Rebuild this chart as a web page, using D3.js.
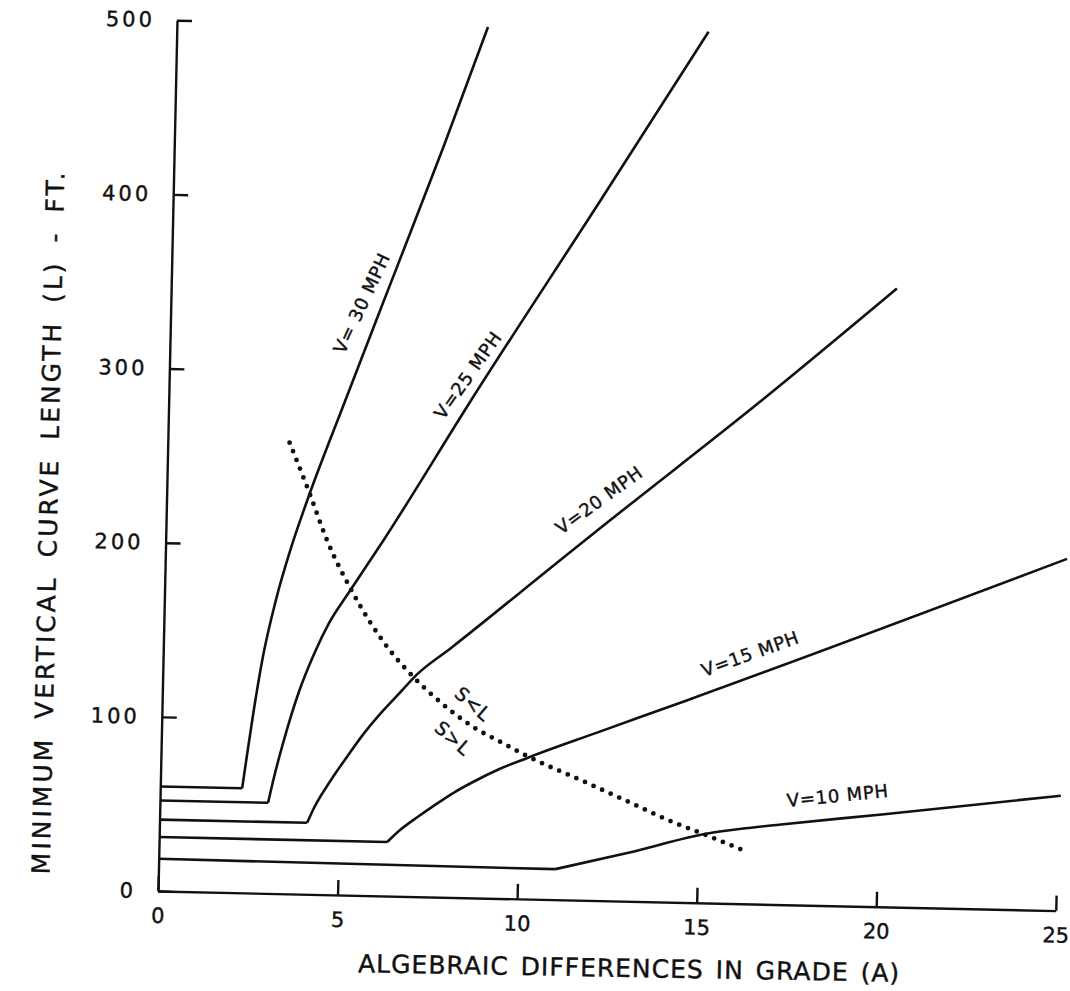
<!DOCTYPE html>
<html>
<head>
<meta charset="utf-8">
<script src="https://cdnjs.cloudflare.com/ajax/libs/d3/7.8.5/d3.min.js"></script>
<style>
  body { margin: 0; background: #fff; }
  svg { display: block; font-family: "DejaVu Sans", sans-serif; }
  .axis path, .axis line { stroke: #111; stroke-width: 2.4; }
  .axis text { font-family: "DejaVu Sans", sans-serif; font-size: 21px; fill: #111; stroke: #111; stroke-width: 0.4px; }
  .y.axis text { letter-spacing: 3px; }
  .curve { fill: none; stroke: #111; stroke-width: 2.6; }
  .locus { fill: none; stroke: #111; stroke-width: 4.8; stroke-linecap: round; stroke-dasharray: 0 9.4; }
  .label { font-size: 18px; fill: #111; stroke: #111; stroke-width: 0.4px; letter-spacing: 0.8px; }
  .title { font-size: 25px; fill: #111; stroke: #111; stroke-width: 0.4px; }
</style>
</head>
<body>
<div id="root"></div>
<script>
// tick values
const gradeTicks = [0, 5, 10, 15, 20, 25];
const lengthTicks = [0, 100, 200, 300, 400, 500];

// curves: [A (%), L (ft)], first two points are the minimum-length floor
const v10 = [[0, 18.5], [11.04, 17.5], [13.1, 28], [15.3, 40], [16.2, 43], [17.3, 46], [20.1, 53], [25.07, 66]];
const v15 = [[0, 31], [6.35, 31], [6.7, 38], [7.2, 46], [7.7, 53.5], [8.2, 60.5], [8.7, 66.5], [9.4, 74], [10.2, 81], [12.2, 97], [14.6, 116], [25.1, 202]];
const v20 = [[0, 41], [4.11, 41], [4.3, 50], [4.72, 65], [5.2, 80], [5.6, 92], [6.1, 105], [6.62, 117], [7.05, 127], [8, 143], [11, 195], [12.1, 214], [16.5, 289], [20.2, 355]];
const v25 = [[0, 52], [3.01, 52], [3.12, 63], [3.3, 79], [3.5, 95], [3.8, 116], [4.2, 138], [4.6, 156], [5.17, 175], [6.06, 204], [8.4, 285], [11.9, 402], [14.8, 500]];
const v30 = [[0, 60], [2.28, 60], [2.4, 80], [2.55, 104], [2.78, 136], [3.1, 168], [3.5, 199], [3.9, 225], [4.9, 283], [6.2, 357], [7.5, 431], [8.66, 500]];

// S = L boundary (dotted)
const boundary = [[3.39, 259], [3.94, 232], [4.5, 203], [5.23, 174], [6.23, 143], [7.03, 125], [7.74, 112], [8.68, 98], [9.43, 90], [10.2, 82], [11.81, 68], [13.05, 57], [14.29, 46], [15.22, 39], [16.35, 30]];

const speedNames = ["V=10 MPH", "V=15 MPH", "V=20 MPH", "V=25 MPH", "V= 30 MPH"];
const zoneNames = ["S<L", "S>L"];

const series = [v10, v15, v20, v25, v30];

const margin = { top: 20, left: 158 };
const width = 898;
const height = 871;
const tilt = 1.25; // the scanned sheet sits slightly rotated

let x = d3.scaleLinear().domain([0, 25]).range([0, width]);
let y = d3.scaleLinear().domain([0, 500]).range([height, 0]);

let svg = d3.select("#root")
            .append("svg")
            .attr("width", 1070)
            .attr("height", 991);

let chart = svg.append("g")
               .attr("transform", `translate(${margin.left}, ${margin.top + height}) rotate(${tilt}) translate(0, ${-height})`);

let yAxis = d3.axisLeft(y).tickValues(lengthTicks).tickSize(-15).tickSizeOuter(0).tickPadding(22);
let xAxis = d3.axisBottom(x).tickValues(gradeTicks).tickSize(-15).tickSizeOuter(0).tickPadding(17);

chart.append("g")
     .attr("class", "y axis")
     .call(yAxis);

chart.append("g")
     .attr("class", "x axis")
     .attr("transform", `translate(0, ${height})`)
     .call(xAxis);

let straight = d3.line().x(d => x(d[0])).y(d => y(d[1]));
let smooth = d3.line().x(d => x(d[0])).y(d => y(d[1])).curve(d3.curveMonotoneX);

series.forEach(s => {
    chart.append("path")
         .attr("class", "curve")
         .attr("d", straight(s.slice(0, 2)));
    chart.append("path")
         .attr("class", "curve")
         .attr("d", smooth(s.slice(1)));
});

chart.append("path")
     .attr("class", "locus")
     .attr("d", smooth(boundary));

// label placement: [A, L, angle]
const speedSpots = [[18.86, 63.3, -7], [16.34, 143.7, -21], [12.04, 230, -37], [8.31, 300, -56], [5.31, 340, -66]];
const zoneSpots = [[8.66, 111.3, 40], [8.12, 91.5, 40]];

chart.selectAll(".speed-label")
     .data(speedNames)
     .enter().append("text")
     .attr("class", "label speed-label")
     .attr("text-anchor", "middle")
     .attr("dy", "0.36em")
     .attr("transform", (d, i) => `translate(${x(speedSpots[i][0])}, ${y(speedSpots[i][1])}) rotate(${speedSpots[i][2]})`)
     .text(d => d);

chart.selectAll(".zone-label")
     .data(zoneNames)
     .enter().append("text")
     .attr("class", "label zone-label")
     .attr("text-anchor", "middle")
     .attr("dy", "0.36em")
     .style("font-size", "19px")
     .attr("transform", (d, i) => `translate(${x(zoneSpots[i][0])}, ${y(zoneSpots[i][1])}) rotate(${zoneSpots[i][2]})`)
     .text(d => d);

svg.append("text")
   .attr("class", "title")
   .attr("text-anchor", "middle")
   .attr("transform", "translate(629, 977) rotate(1.0)")
   .style("letter-spacing", "1px")
   .style("word-spacing", "3px")
   .text("ALGEBRAIC DIFFERENCES IN GRADE (A)");

svg.append("text")
   .attr("class", "title")
   .attr("text-anchor", "middle")
   .attr("transform", "translate(57, 522) rotate(-88.8)")
   .style("letter-spacing", "3px")
   .style("word-spacing", "7px")
   .text("MINIMUM VERTICAL CURVE LENGTH (L) - FT.");
</script>
</body>
</html>
